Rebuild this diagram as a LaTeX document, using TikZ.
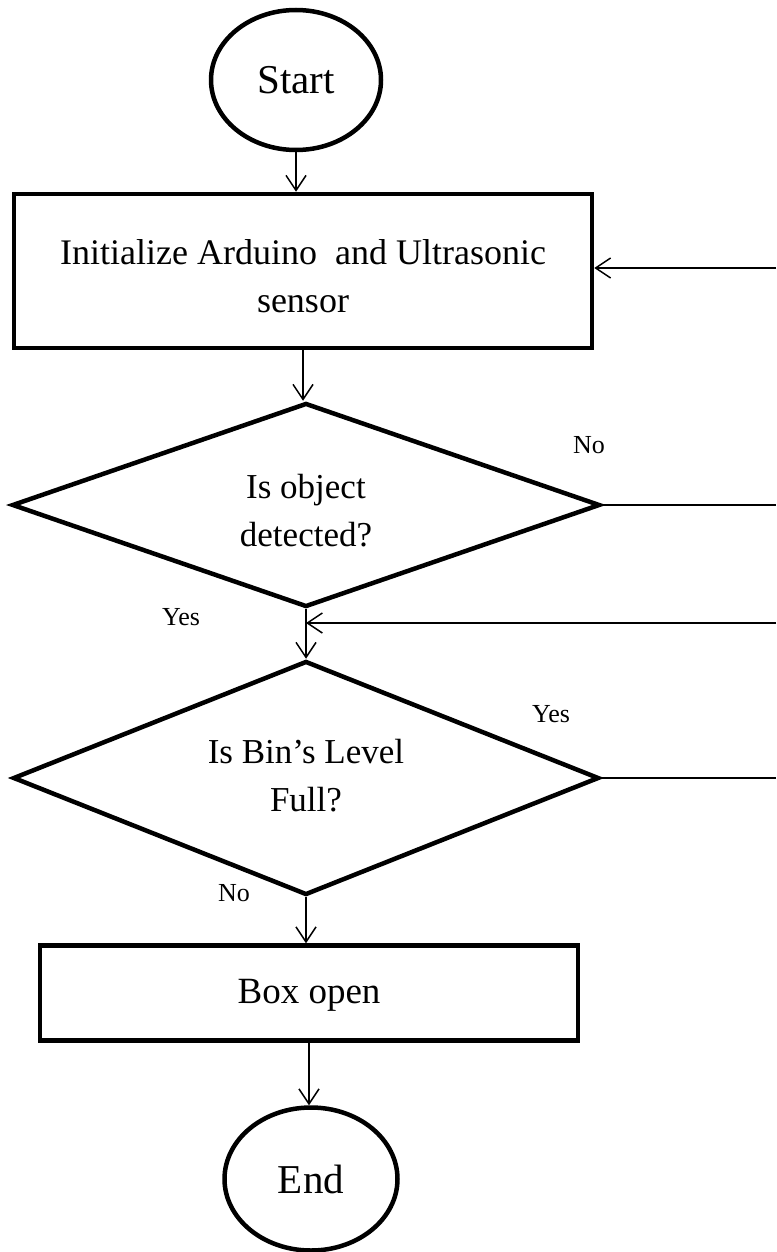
\documentclass[tikz,border=0pt]{standalone}
\usepackage{fontspec}
\setmainfont{Liberation Serif}
\usetikzlibrary{shapes.geometric,arrows.meta}
\tikzset{
  shapeline/.style={draw=black,line width=4.5pt,inner sep=0pt},
  term/.style={shapeline,ellipse,minimum width=170pt,minimum height=140pt,font=\fontsize{41}{44}\selectfont},
  procbox/.style={shapeline,rectangle},
  decision/.style={shapeline,diamond},
  btext/.style={align=center,inner sep=0pt,font=\fontsize{36}{48}\selectfont},
  dtext/.style={align=center,inner sep=0pt,font=\fontsize{35}{48}\selectfont},
  lbl/.style={font=\fontsize{26}{28}\selectfont,inner sep=0pt},
  conn/.style={line width=1.5pt,-{Straight Barb[length=15pt,width=20pt,line width=1.5pt]}},
  plainconn/.style={line width=1.5pt}
}
\begin{document}
\begin{tikzpicture}[x=1pt,y=-1pt]
\useasboundingbox (0,0) rectangle (776,1252);
\node[term] (start) at (296,80) {Start};
\node[procbox,minimum width=578pt,minimum height=154pt] (init) at (303,271) {};
\node[btext] (initt) at (303,276) {Initialize Arduino\ \ and Ultrasonic\\sensor};
\node[decision,minimum width=588pt,minimum height=204pt] (d1) at (306,505) {};
\node[dtext] (d1t) at (306,511) {Is object\\detected?};
\node[decision,minimum width=586pt,minimum height=234pt] (d2) at (306,778) {};
\node[dtext] (d2t) at (306,776) {Is Bin's Level\\Full?};
\node[procbox,minimum width=538pt,minimum height=95pt] (open) at (309,993) {};
\node[btext,font=\fontsize{37}{44}\selectfont] (opent) at (309,995) {Box open};
\node[term,minimum width=173pt,minimum height=143pt] (end) at (311,1179) {End};

\coordinate (r1) at (776,268);
\coordinate (r2) at (776,505);
\coordinate (r3) at (776,623);
\coordinate (r4) at (776,778);

\draw[conn] (start.south) -- (start.south |- init.north);
\draw[conn] (init.south) -- (init.south |- d1.north);
\draw[conn] (d1.south) -- (d1.south |- d2.north);
\draw[conn] (d2.south) -- (d2.south |- open.north);
\draw[conn] (open.south) -- (open.south |- end.north);
\draw[conn] (r1) -- (init.east |- r1);
\draw[plainconn] (d1.east) -- (r2);
\draw[conn] (r3) -- (d1.south |- r3);
\draw[plainconn] (d2.east) -- (r4);

\node[lbl] (lno1) at (589,445) {No};
\node[lbl] (lyes1) at (181,617) {Yes};
\node[lbl] (lyes2) at (551,714) {Yes};
\node[lbl] (lno2) at (234,893) {No};
\end{tikzpicture}
\end{document}
